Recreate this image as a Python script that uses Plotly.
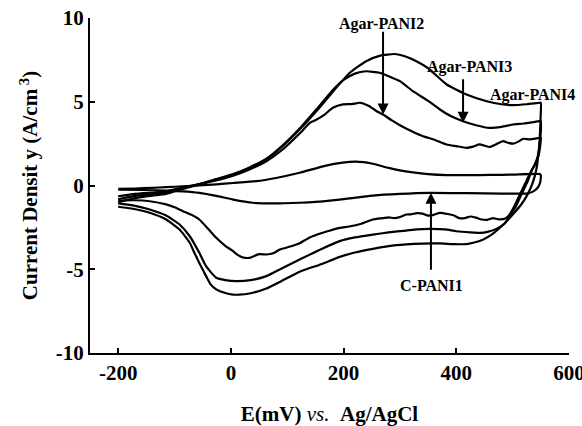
import plotly.graph_objects as go

# ---------------- data ----------------
# C-PANI1
c1_fwd_x = [-200, -170, -140, -115, -85, -56, -26, 4, 45, 80, 122, 169, 211, 235, 252, 280, 300, 323, 350, 383, 420, 460, 500, 548]
c1_fwd_y = [-0.2, -0.18, -0.14, -0.1, -0.05, 0.0, 0.07, 0.15, 0.26, 0.45, 0.76, 1.19, 1.41, 1.4, 1.3, 1.05, 0.9, 0.78, 0.68, 0.62, 0.62, 0.63, 0.65, 0.68]
c1_rev_x = [550, 549, 544, 535, 525, 480, 420, 353, 300, 252, 193, 150, 122, 75, 39, 4, -26, -56, -85, -115, -150, -200]
c1_rev_y = [0.6, 0.2, -0.15, -0.38, -0.48, -0.48, -0.46, -0.44, -0.5, -0.6, -0.84, -0.98, -1.03, -1.07, -1.03, -0.84, -0.62, -0.44, -0.35, -0.3, -0.27, -0.25]

# Agar-PANI2
a2_fwd_x = [-200, -170, -140, -115, -85, -56, -26, 4, 33, 63, 92, 122, 140, 150, 165, 181, 199, 215, 229, 245, 258, 270, 285, 300, 320, 341, 360, 383, 400, 418, 430, 441, 450, 459, 470, 483, 492, 501, 510, 519, 530, 548]
a2_fwd_y = [-0.64, -0.5, -0.42, -0.35, -0.12, 0.08, 0.3, 0.58, 0.95, 1.45, 2.15, 3.1, 3.74, 3.9, 4.2, 4.64, 4.84, 4.86, 4.94, 4.75, 4.45, 4.24, 3.9, 3.6, 3.25, 2.94, 2.75, 2.45, 2.35, 2.25, 2.32, 2.45, 2.38, 2.3, 2.45, 2.65, 2.55, 2.5, 2.62, 2.79, 2.75, 2.85]
a2_rev_x = [550, 549, 546, 540, 532, 522, 512, 502, 493, 486, 475, 465, 455, 445, 435, 425, 415, 405, 395, 385, 371, 360, 350, 340, 330, 320, 311, 300, 290, 280, 270, 252, 230, 210, 193, 175, 160, 140, 122, 110, 98, 87, 75, 63, 50, 33, 20, 10, 4, -10, -26, -40, -56, -70, -85, -100, -115, -144, -170, -200]
a2_rev_y = [2.85, 2.4, 1.8, 1.3, 0.8, 0.1, -0.6, -1.3, -1.8, -1.99, -2.02, -1.95, -2.05, -2.03, -1.92, -1.85, -1.95, -1.95, -1.78, -1.7, -1.63, -1.75, -1.8, -1.68, -1.65, -1.72, -1.73, -1.88, -1.95, -1.9, -1.95, -2.03, -2.3, -2.45, -2.53, -2.7, -2.85, -3.1, -3.45, -3.6, -3.72, -3.82, -4.05, -4.12, -4.1, -4.32, -4.28, -4.1, -3.92, -3.6, -3.12, -2.6, -2.03, -1.75, -1.53, -1.3, -1.13, -0.94, -0.88, -0.9]

# Agar-PANI3
a3_fwd_x = [-200, -170, -140, -115, -85, -56, -26, 4, 33, 63, 92, 122, 152, 181, 200, 220, 240, 264, 285, 300, 323, 350, 371, 390, 412, 435, 459, 480, 501, 520, 548]
a3_fwd_y = [-0.82, -0.62, -0.5, -0.42, -0.15, 0.08, 0.38, 0.68, 1.08, 1.6, 2.4, 3.4, 4.55, 5.7, 6.3, 6.68, 6.82, 6.73, 6.45, 6.23, 5.63, 5.05, 4.54, 4.15, 3.84, 3.6, 3.44, 3.5, 3.64, 3.7, 3.84]
a3_rev_x = [550, 549, 545, 539, 534, 526, 516, 505, 495, 485, 471, 457, 442, 425, 400, 380, 353, 330, 311, 280, 252, 220, 193, 160, 122, 90, 63, 35, 10, -10, -26, -44, -56, -73, -91, -115, -144, -174, -200]
a3_rev_y = [3.84, 2.8, 1.8, 1.2, 0.9, 0.2, -0.5, -1.3, -1.8, -2.3, -2.59, -2.75, -2.83, -2.8, -2.73, -2.62, -2.59, -2.62, -2.69, -2.8, -2.93, -3.1, -3.32, -3.8, -4.42, -4.95, -5.41, -5.65, -5.71, -5.65, -5.51, -4.82, -4.02, -3.03, -2.33, -1.79, -1.43, -1.19, -1.07]

# Agar-PANI4
a4_fwd_x = [-200, -170, -140, -115, -85, -56, -26, 4, 33, 63, 92, 122, 152, 181, 211, 240, 265, 290, 310, 330, 350, 383, 418, 454, 480, 501, 525, 548]
a4_fwd_y = [-1.0, -0.75, -0.6, -0.5, -0.2, 0.06, 0.36, 0.66, 1.05, 1.55, 2.35, 3.34, 4.44, 5.6, 6.73, 7.42, 7.75, 7.85, 7.7, 7.4, 7.0, 6.03, 5.43, 5.03, 4.85, 4.8, 4.85, 4.94]
a4_rev_x = [550, 549.5, 548, 545.5, 542, 536, 527, 515, 501, 489, 477, 462, 448, 430, 418, 395, 371, 340, 311, 280, 252, 220, 193, 160, 122, 90, 63, 33, 15, 4, -10, -26, -36, -44, -56, -65, -73, -91, -115, -144, -174, -200]
a4_rev_y = [4.94, 4.0, 2.8, 1.8, 0.96, 0.2, -0.5, -1.15, -1.7, -2.15, -2.53, -2.95, -3.22, -3.42, -3.5, -3.5, -3.46, -3.47, -3.52, -3.62, -3.78, -4.0, -4.26, -4.7, -5.15, -5.7, -6.15, -6.45, -6.52, -6.51, -6.42, -6.2, -5.9, -5.41, -4.62, -4.0, -3.42, -2.63, -2.03, -1.63, -1.39, -1.27]

x_ticks = [-200, 0, 200, 400, 600]
y_ticks = [-10, -5, 0, 5, 10]

# label texts and where they sit (data units)
label_text = ["Agar-PANI2", "Agar-PANI3", "Agar-PANI4", "C-PANI1"]
label_x = [268, 424, 536, 356]
label_y = [9.64, 7.1, 5.43, -5.97]

# arrows: tail -> head
arrow_tail_x = [270, 412, 355]
arrow_tail_y = [9.27, 6.43, -5.12]
arrow_head_x = [270, 412, 355]
arrow_head_y = [4.24, 3.74, -0.44]

SERIF = "Liberation Serif"

fig = go.Figure()
curves = [
    ("C-PANI1", c1_fwd_x, c1_fwd_y, c1_rev_x, c1_rev_y),
    ("Agar-PANI2", a2_fwd_x, a2_fwd_y, a2_rev_x, a2_rev_y),
    ("Agar-PANI3", a3_fwd_x, a3_fwd_y, a3_rev_x, a3_rev_y),
    ("Agar-PANI4", a4_fwd_x, a4_fwd_y, a4_rev_x, a4_rev_y),
]
for name, fx, fy, rx, ry in curves:
    xs = list(fx) + list(rx)
    ys = list(fy) + list(ry)
    fig.add_trace(go.Scatter(
        x=xs, y=ys, mode="lines", name=name,
        line=dict(color="black", width=2.2, shape="spline", smoothing=0.5),
        showlegend=False, hoverinfo="skip",
    ))

annotations = []
for t, x, y in zip(label_text, label_x, label_y):
    annotations.append(dict(
        x=x, y=y, xref="x", yref="y", text=t, showarrow=False,
        font=dict(family=SERIF, size=16, color="black", weight="bold"),
        xanchor="center", yanchor="middle",
    ))
for tx, ty, hx, hy in zip(arrow_tail_x, arrow_tail_y, arrow_head_x, arrow_head_y):
    annotations.append(dict(
        x=hx, y=hy, ax=tx, ay=ty, xref="x", yref="y", axref="x", ayref="y",
        text="", showarrow=True, arrowhead=2, arrowsize=1.1, arrowwidth=2,
        arrowcolor="black", standoff=0, startstandoff=0,
    ))

fig.update_layout(
    width=582, height=426,
    margin=dict(l=90, r=13, t=18, b=73, autoexpand=False),
    paper_bgcolor="white", plot_bgcolor="white",
    annotations=annotations,
    xaxis=dict(
        range=[-250, 600], tickvals=x_ticks, ticktext=[str(v) for v in x_ticks],
        ticks="inside", ticklen=5, tickwidth=1.5, tickcolor="black",
        ticklabeloverflow="allow", automargin=False,
        showline=True, linewidth=2, linecolor="black", mirror=False,
        showgrid=False, zeroline=False,
        tickfont=dict(family=SERIF, size=21, color="black", weight="bold"),
        title=dict(
            text="<b>E(mV)</b> <i>vs.</i>&nbsp;&nbsp;<b>Ag/AgCl</b>",
            font=dict(family=SERIF, size=21, color="black"),
            standoff=24,
        ),
    ),
    yaxis=dict(
        range=[-10, 10], tickvals=y_ticks, ticktext=[str(v) for v in y_ticks],
        ticks="inside", ticklen=5, tickwidth=1.5, tickcolor="black",
        ticklabeloverflow="allow", automargin=False,
        showline=True, linewidth=2, linecolor="black", mirror=False,
        showgrid=False, zeroline=False,
        tickfont=dict(family=SERIF, size=21, color="black", weight="bold"),
        title=dict(
            text="Current Densit y (A/cm<sup> 3</sup>)",
            font=dict(family=SERIF, size=21, color="black", weight="bold"),
            standoff=12,
        ),
    ),
)

fig.write_html("out.html")
